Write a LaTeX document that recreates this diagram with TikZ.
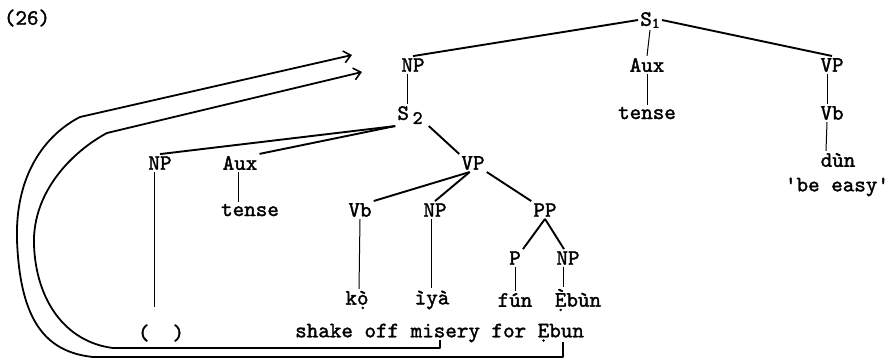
\documentclass[tikz,border=0pt]{standalone}
\usepackage{fontspec}
\newfontfamily\tw{lmmono10-regular.otf}[FakeBold=1.6]
\usetikzlibrary{arrows.meta}
\begin{document}
\begin{tikzpicture}[x=1pt,y=-1pt,
  tx/.style={font=\tw\fontsize{22}{24}\selectfont, inner sep=2pt, anchor=center},
  br/.style={line width=1.9pt},
  vl/.style={line width=1pt},
  mv/.style={line width=1.8pt, line join=round, -{Straight Barb[length=7pt,width=12pt,line width=1.6pt]}}]
\useasboundingbox (0,0) rectangle (892,360);
% labels
\node[tx] (n26) at (27,18) {(26)};
\node[tx] (S1) at (650,20) {S\raisebox{-2pt}{\fontsize{15}{15}\selectfont 1}};
\node[tx] (NPa) at (413,65) {NP};
\node[tx] (AuxA) at (647,65) {Aux};
\node[tx] (VPa) at (832,65) {VP};
\node[tx] (tenseA) at (647,113) {tense};
\node[tx] (Vba) at (832,113) {Vb};
\node[tx] (dun) at (838,160) {dùn};
\node[tx] (easy) at (837,187) {'be easy'};
\node[tx] (S2) at (410,115) {S\,\raisebox{-4pt}{\fontsize{19}{19}\selectfont 2}};
\node[tx] (NPb) at (160,163) {NP};
\node[tx] (AuxB) at (240,163) {Aux};
\node[tx] (VPb) at (473,163) {VP};
\node[tx] (tenseB) at (250,210) {tense};
\node[tx] (Vbb) at (360,210) {Vb};
\node[tx] (NPc) at (435,210) {NP};
\node[tx] (PP) at (545,210) {PP};
\node[tx] (P) at (515,258) {P};
\node[tx] (NPd) at (568,258) {NP};
\node[tx] (ko) at (357,300) {k\accent"60 ọ};
\node[tx] (iya) at (432,300) {ìyà};
\node[tx] (fun) at (515,300) {fún};
\node[tx] (ebun) at (578,300) {\accent"60 Ẹbùn};
\node[tx] (par) at (161,333) {(\ \ )};
\node[tx, anchor=west] (gloss) at (293,333) {shake off misery for Ẹbun};
% tree branches
\draw[br] (S1.west) -- (NPa.north);
\draw[vl] (S1.south) -- (AuxA.north);
\draw[br] (S1.east) -- (VPa.north);
\draw[vl] (AuxA.south) -- (tenseA.north);
\draw[vl] ([xshift=-5pt]VPa.south) -- ([xshift=-5pt]Vba.north);
\draw[vl] ([xshift=-5pt]Vba.south) -- ([xshift=-12pt]dun.north);
\draw[vl] ([xshift=-6pt]NPa.south) -- ([xshift=-3pt]S2.north);
\draw[br] (S2.south west) -- (NPb.north);
\draw[br] (S2.south west) -- (AuxB.north east);
\draw[br] ([xshift=4pt]S2.south east) -- (VPb.north west);
\coordinate (gapB) at (154,307);
\draw[vl] ([xshift=-6pt]NPb.south) -- (gapB);
\draw[vl] ([xshift=-2pt]AuxB.south) -- ([xshift=-12pt]tenseB.north);
\draw[br] (VPb.250) -- (Vbb.north east);
\draw[br] (VPb.250) -- (NPc.north);
\draw[br] (VPb.south east) -- (PP.north west);
\draw[br] (PP.south) -- (P.north east);
\draw[br] (PP.south) -- ([xshift=-4pt]NPd.north);
\draw[vl] (Vbb.south) -- ([xshift=2pt]ko.north);
\draw[vl] ([xshift=-4pt]NPc.south) -- ([xshift=-1pt]iya.north);
\draw[vl] (P.south) -- (fun.north);
\draw[vl] ([xshift=-5pt]NPd.south) -- ([xshift=-15pt]ebun.north);
% movement arrows
\coordinate (mA) at (440,340);
\coordinate (mB) at (563,342);
\coordinate (tA) at (362,72);
\coordinate (tB) at (352,55);
\draw[mv] (mB) -- (563,357) -- (93,357)
  .. controls (45,352) and (20,320) .. (17,240)
  .. controls (15,175) and (45,135) .. (80,117) -- (tB);
\draw[mv] (mA) -- (440,348) -- (113,348)
  .. controls (65,342) and (36,300) .. (34,245)
  .. controls (32,190) and (75,150) .. (107,133) -- (tA);
\end{tikzpicture}
\end{document}
